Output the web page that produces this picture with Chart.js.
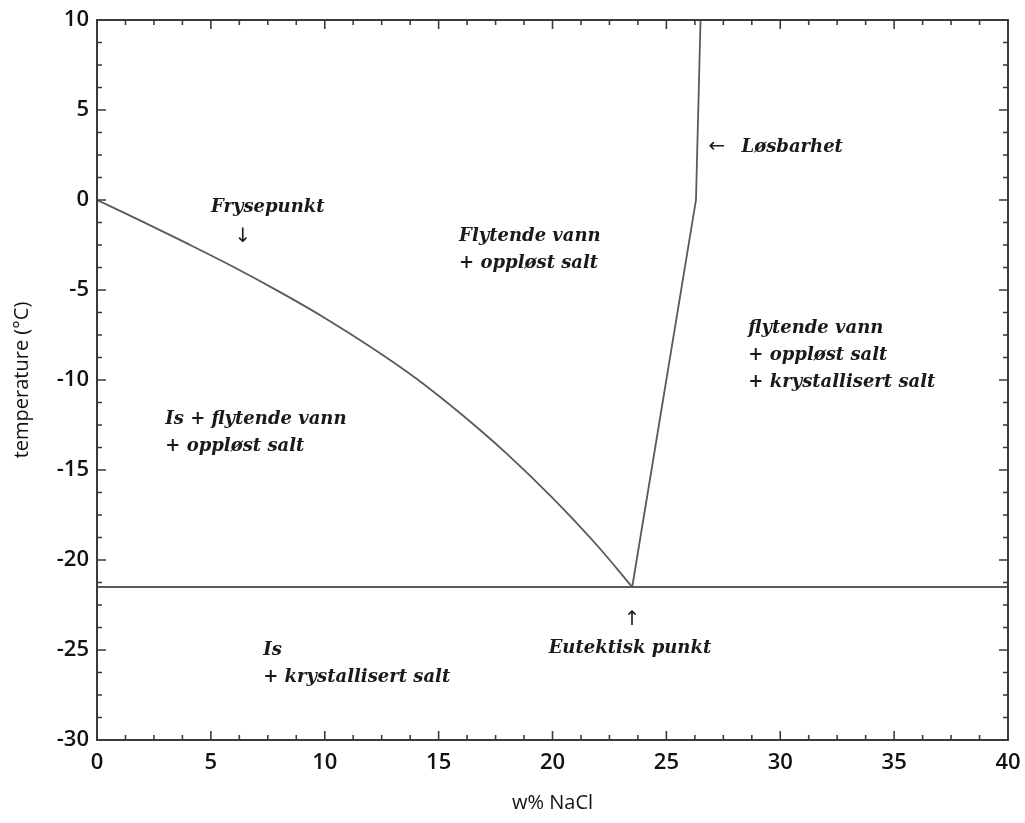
<!DOCTYPE html>
<html lang="no">
<head>
  <meta charset="UTF-8">
  <title>Fasediagram NaCl - vann</title>
  <script src="https://cdn.jsdelivr.net/npm/chart.js@4/dist/chart.umd.min.js"></script>
  <style>
    html, body { margin: 0; padding: 0; background: #fff; }
    #wrap { width: 1025px; height: 823px; }
  </style>
</head>
<body>
  <div id="wrap"><canvas id="phase-chart"></canvas></div>
  <script>
    // freezing point curve (w% NaCl, °C)
    const freezeX = [0, 2, 4, 6, 8, 10, 12, 14, 16, 18, 20, 22, 23.5];
    const freezeY = [0, -1.2, -2.44, -3.72, -5.09, -6.55, -8.15, -9.9, -11.9, -14.1, -16.55, -19.25, -21.5];

    // solubility line
    const solX = [23.5, 26.3, 26.5];
    const solY = [-21.5, 0, 10];

    // eutectic temperature
    const eutecticX = [0, 40];
    const eutecticY = [-21.5, -21.5];

    const yTickLabels = ['10', '5', '0', '-5', '-10', '-15', '-20', '-25', '-30'];

    // region texts, placed in data units
    const notes = [
      { text: 'Frysepunkt', x: 7.5, y: -0.4, align: 'center' },
      { text: '\u2193', x: 6.4, y: -2.05, align: 'center', arrow: true },
      { text: 'Flytende vann', x: 15.9, y: -2.0, align: 'left' },
      { text: '+ oppløst salt', x: 15.9, y: -3.5, align: 'left' },
      { text: '\u2190', x: 26.85, y: 2.95, align: 'left', arrow: true },
      { text: 'Løsbarhet', x: 28.3, y: 2.95, align: 'left' },
      { text: 'flytende vann', x: 28.6, y: -7.15, align: 'left' },
      { text: '+ oppløst salt', x: 28.6, y: -8.65, align: 'left' },
      { text: '+ krystallisert salt', x: 28.6, y: -10.15, align: 'left' },
      { text: 'Is + flytende vann', x: 3.0, y: -12.2, align: 'left' },
      { text: '+ oppløst salt', x: 3.0, y: -13.7, align: 'left' },
      { text: '\u2191', x: 23.5, y: -23.3, align: 'center', arrow: true },
      { text: 'Eutektisk punkt', x: 23.4, y: -24.9, align: 'center' },
      { text: 'Is', x: 7.3, y: -25.0, align: 'left' },
      { text: '+ krystallisert salt', x: 7.3, y: -26.5, align: 'left' }
    ];

    const toPoints = (xs, ys) => xs.map((x, i) => ({ x: x, y: ys[i] }));

    // frame, inward ticks on all sides, and the text notes
    const framePlugin = {
      id: 'frame',
      afterDatasetsDraw(chart) {
        const ctx = chart.ctx;
        const a = chart.chartArea;
        const xs = chart.scales.x, ys = chart.scales.y;
        ctx.save();
        ctx.strokeStyle = '#3a3a3a';
        ctx.lineWidth = 1.6;
        ctx.beginPath();
        for (let v = xs.min; v <= xs.max + 1e-6; v += 1.25) {
          const px = xs.getPixelForValue(v);
          const len = Math.abs(v % 5) < 1e-6 ? 9 : 5;
          ctx.moveTo(px, a.bottom); ctx.lineTo(px, a.bottom - len);
          ctx.moveTo(px, a.top); ctx.lineTo(px, a.top + len);
        }
        for (let v = ys.min; v <= ys.max + 1e-6; v += 1.25) {
          const py = ys.getPixelForValue(v);
          const len = Math.abs(v % 5) < 1e-6 ? 9 : 5;
          ctx.moveTo(a.left, py); ctx.lineTo(a.left + len, py);
          ctx.moveTo(a.right, py); ctx.lineTo(a.right - len, py);
        }
        ctx.stroke();
        ctx.lineWidth = 2;
        ctx.strokeRect(a.left, a.top, a.right - a.left, a.bottom - a.top);

        ctx.fillStyle = '#1a1a1a';
        ctx.textBaseline = 'middle';
        notes.forEach(n => {
          ctx.font = n.arrow ? '20px "DejaVu Sans"' : 'italic bold 18px "DejaVu Serif"';
          ctx.textAlign = n.align;
          ctx.fillText(n.text, xs.getPixelForValue(n.x), ys.getPixelForValue(n.y));
        });
        ctx.restore();
      }
    };

    const lineStyle = {
      showLine: true,
      pointRadius: 0,
      borderColor: '#5a5a5a',
      borderWidth: 1.8,
      fill: false
    };

    new Chart(document.getElementById('phase-chart'), {
      type: 'scatter',
      data: {
        datasets: [
          Object.assign({ label: 'Frysepunkt', data: toPoints(freezeX, freezeY), cubicInterpolationMode: 'monotone' }, lineStyle),
          Object.assign({ label: 'Løsbarhet', data: toPoints(solX, solY), tension: 0 }, lineStyle),
          Object.assign({ label: 'Eutektisk', data: toPoints(eutecticX, eutecticY), tension: 0 }, lineStyle)
        ]
      },
      options: {
        responsive: true,
        maintainAspectRatio: false,
        animation: false,
        layout: { padding: { top: 20, right: 17, left: 0, bottom: 0 } },
        plugins: { legend: { display: false }, tooltip: { enabled: false } },
        scales: {
          x: {
            type: 'linear',
            min: 0, max: 40,
            grid: { display: false, drawTicks: false },
            border: { display: false },
            ticks: {
              stepSize: 5,
              padding: 10,
              color: '#111',
              font: { family: '"Open Sans"', size: 22, weight: '600' }
            },
            title: {
              display: true,
              text: 'w% NaCl',
              color: '#111',
              font: { family: '"Open Sans"', size: 20 },
              padding: { top: 4, bottom: 8 }
            },
            afterFit(s) { s.height = 83; s.paddingRight = 0; s.paddingLeft = 0; }
          },
          y: {
            type: 'linear',
            min: -30, max: 10,
            grid: { display: false, drawTicks: false },
            border: { display: false },
            ticks: {
              stepSize: 5,
              padding: 8,
              color: '#111',
              font: { family: '"Open Sans"', size: 22, weight: '600' },
              callback: (v) => yTickLabels[(10 - v) / 5]
            },
            title: {
              display: true,
              text: 'temperature (°C)',
              color: '#111',
              font: { family: '"Open Sans"', size: 20 },
              padding: { bottom: 0, top: 10 }
            },
            afterFit(s) { s.width = 97; s.paddingTop = 0; s.paddingBottom = 0; }
          }
        }
      },
      plugins: [framePlugin]
    });
  </script>
</body>
</html>
